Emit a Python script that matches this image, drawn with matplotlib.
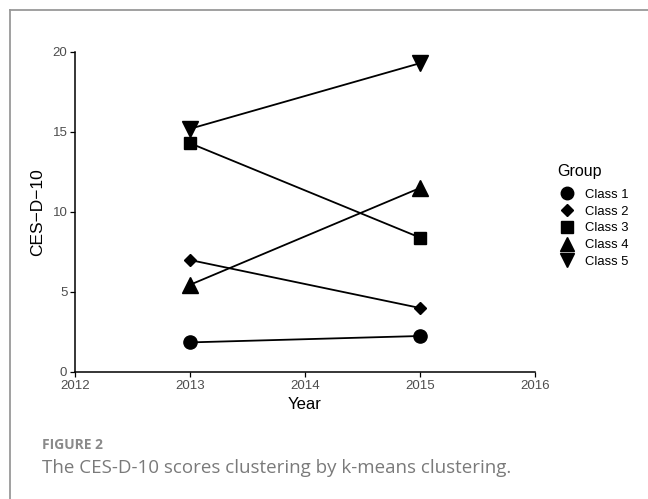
import matplotlib.pyplot as plt
from matplotlib.lines import Line2D

# Data
years = [2013, 2015]
groups = ["Class 1", "Class 2", "Class 3", "Class 4", "Class 5"]
class1 = [1.85, 2.25]
class2 = [7.0, 4.0]
class3 = [14.3, 8.4]
class4 = [5.45, 11.5]
class5 = [15.2, 19.3]
series = [class1, class2, class3, class4, class5]

markers = ["o", "D", "s", "^", "v"]
sizes = [9.5, 6.5, 8.5, 12, 12]
legend_sizes = [9, 6.5, 8, 10, 10]

plt.rcParams["font.family"] = ["Liberation Sans", "DejaVu Sans"]

fig = plt.figure(figsize=(6.48, 4.99), dpi=100)

# caption frame (left + top border)
fig.add_artist(Line2D([10 / 648, 10 / 648], [0, 1 - 10 / 499], color="#999999", lw=1.3, transform=fig.transFigure))
fig.add_artist(Line2D([10 / 648, 1], [1 - 10 / 499, 1 - 10 / 499], color="#999999", lw=1.3, transform=fig.transFigure))

ax = fig.add_axes([75 / 648, 1 - 372 / 499, 460 / 648, 320 / 499])

for name, vals, m, s in zip(groups, series, markers, sizes):
    ax.plot(years, vals, color="black", lw=1.3, marker=m, markersize=s, label=name)

ax.set_xlim(2012, 2016)
ax.set_ylim(0, 20)
ax.set_xticks([2012, 2013, 2014, 2015, 2016])
ax.set_yticks([0, 5, 10, 15, 20])
for side in ["top", "right"]:
    ax.spines[side].set_visible(False)
for side in ["left", "bottom"]:
    ax.spines[side].set_linewidth(1.1)
ax.tick_params(length=3.5, width=0.9, labelsize=9.5, labelcolor="#4D4D4D", pad=2)
ax.set_xlabel("Year", fontsize=12, labelpad=4)
ax.set_ylabel("CES\u2212D\u221210", fontsize=12.5, labelpad=5)

handles = [Line2D([], [], color="black", lw=0, marker=m, markersize=s) for m, s in zip(markers, legend_sizes)]
leg = ax.legend(handles, groups, title="Group", loc="upper left", bbox_to_anchor=(1.035, 0.67),
                frameon=False, fontsize=9.4, title_fontsize=11.5, handlelength=1.5,
                handletextpad=0.6, labelspacing=0.35, borderpad=0)
leg._legend_box.align = "left"
leg._legend_box.sep = 7

fig.text(42 / 648, 1 - 449 / 499, "FIGURE 2", fontsize=10, color="#8a8a8a", fontweight="bold",
         family=["Open Sans", "DejaVu Sans"])
fig.text(42 / 648, 1 - 473 / 499, "The CES-D-10 scores clustering by k-means clustering.",
         fontsize=13.5, color="#7a7a7a", family=["Open Sans", "DejaVu Sans"])

fig.savefig("out.png", dpi=100)
